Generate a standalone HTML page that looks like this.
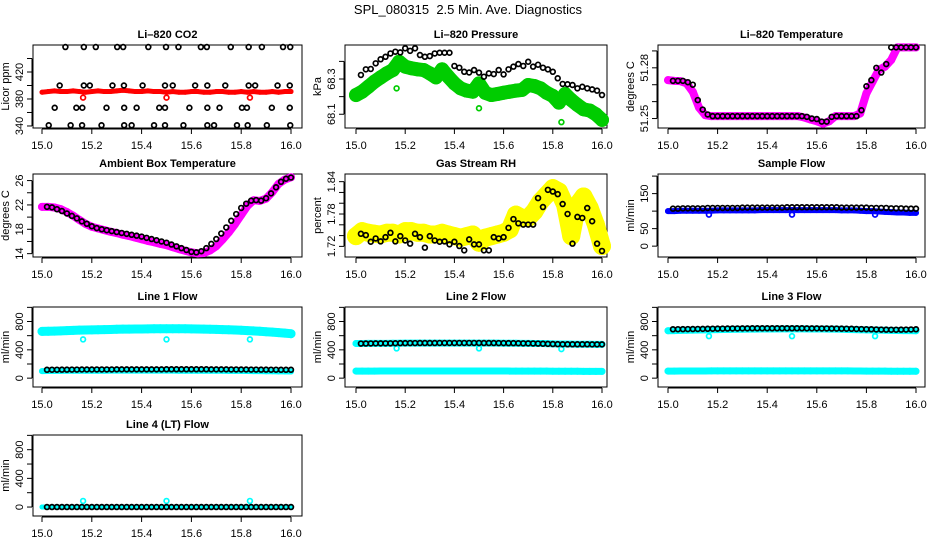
<!DOCTYPE html>
<html><head><meta charset="utf-8"><style>
html,body{margin:0;padding:0;background:#fff;}
svg{display:block;font-family:"Liberation Sans",Arial,sans-serif;}
.tl{font-size:11px;fill:#000;}
.pt{font-size:11px;font-weight:bold;fill:#000;}
</style></head><body>
<svg id="chart" width="936" height="540" viewBox="0 0 936 540" xmlns="http://www.w3.org/2000/svg">
<rect width="936" height="540" fill="#fff"/>
<text x="468" y="14" text-anchor="middle" font-size="13" style="white-space:pre">SPL_080315  2.5 Min. Ave. Diagnostics</text>
</svg>
<script>
// ---- shared time axes ----
const T=[15.000,15.025,15.050,15.075,15.100,15.125,15.150,15.175,15.200,15.225,15.250,15.275,15.300,15.325,15.350,15.375,15.400,15.425,15.450,15.475,15.500,15.525,15.550,15.575,15.600,15.625,15.650,15.675,15.700,15.725,15.750,15.775,15.800,15.825,15.850,15.875,15.900,15.925,15.950,15.975,16.000];
const TB=[15.02,15.04,15.06,15.08,15.10,15.12,15.14,15.16,15.18,15.20,15.22,15.24,15.26,15.28,15.30,15.32,15.34,15.36,15.38,15.40,15.42,15.44,15.46,15.48,15.50,15.52,15.54,15.56,15.58,15.60,15.62,15.64,15.66,15.68,15.70,15.72,15.74,15.76,15.78,15.80,15.82,15.84,15.86,15.88,15.90,15.92,15.94,15.96,15.98,16.00];
const outX=[15.165,15.5,15.835];
const xTicks=[15.0,15.2,15.4,15.6,15.8,16.0];
const xTickLabels=["15.0","15.2","15.4","15.6","15.8","16.0"];

// ---- CO2 ----
const co2Red=[390,391,392,391,391,392,391,390,391,392,391,391,392,393,392,391,391,392,391,391,390,391,390,390,391,391,390,390,391,391,390,390,391,390,391,390,390,391,390,391,391];
const co2BlackX=[15.094,15.168,15.216,15.302,15.326,15.427,15.498,15.548,15.638,15.662,15.758,15.830,15.883,15.968,15.997,
15.071,15.168,15.192,15.283,15.329,15.404,15.494,15.525,15.615,15.664,15.736,15.830,15.856,15.946,15.995,
15.051,15.138,15.162,15.259,15.330,15.380,15.471,15.494,15.592,15.664,15.713,15.803,15.823,15.923,15.995,
15.027,15.115,15.161,15.239,15.330,15.360,15.450,15.494,15.568,15.664,15.691,15.783,15.826,15.903,15.997];
const co2BlackY=[457,457,457,457,457,457,457,457,457,457,457,457,457,457,457,
400,400,400,400,400,400,400,400,400,400,400,400,400,400,400,
367,367,367,367,367,367,367,367,367,367,367,367,367,367,367,
341,341,341,341,341,341,341,341,341,341,341,341,341,341,341];
const co2Out=[382,382,382];

// ---- Pressure ----
const presGreen=[68.209,68.228,68.256,68.285,68.309,68.332,68.351,68.398,68.370,68.361,68.355,68.351,68.332,68.309,68.355,68.313,68.275,68.247,68.234,68.228,68.275,68.222,68.209,68.215,68.222,68.228,68.234,68.238,68.266,68.260,68.247,68.222,68.204,68.166,68.215,68.181,68.153,68.128,68.121,68.100,68.068];
const presBlack=[68.323,68.355,68.357,68.389,68.412,68.426,68.445,68.455,68.451,68.474,68.460,68.474,68.436,68.426,68.430,68.445,68.449,68.449,68.449,68.374,68.364,68.341,68.337,68.351,68.336,68.313,68.332,68.328,68.351,68.326,68.355,68.370,68.385,68.374,68.398,68.370,68.381,68.364,68.355,68.341,68.304,68.272,68.270,68.266,68.247,68.256,68.247,68.241,68.234,68.209];
const presOut=[68.247,68.134,68.055];

// ---- Li-820 temperature ----
const tempMag=[51.2727,51.2723,51.2721,51.2708,51.2658,51.2565,51.2520,51.2514,51.2514,51.2514,51.2514,51.2514,51.2514,51.2514,51.2514,51.2514,51.2514,51.2514,51.2514,51.2514,51.2514,51.2514,51.2506,51.2494,51.2484,51.2470,51.2484,51.2514,51.2514,51.2514,51.2514,51.2530,51.2649,51.2718,51.2788,51.2807,51.2846,51.2921,51.2921,51.2921,51.2921];
const tempBlack=[51.2723,51.2723,51.2723,51.2715,51.2700,51.2609,51.2553,51.2524,51.2514,51.2514,51.2514,51.2514,51.2514,51.2514,51.2514,51.2514,51.2514,51.2514,51.2514,51.2514,51.2514,51.2514,51.2514,51.2514,51.2514,51.2514,51.2514,51.2510,51.2500,51.2497,51.2482,51.2482,51.2510,51.2514,51.2514,51.2514,51.2514,51.2514,51.2549,51.2691,51.2727,51.2800,51.2772,51.2822,51.2921,51.2921,51.2921,51.2921,51.2921,51.2921];

// ---- Ambient box temperature ----
const ambMag=[21.69,21.69,21.58,21.31,20.83,20.24,19.54,18.89,18.41,18.14,17.87,17.60,17.38,17.11,16.90,16.63,16.36,16.09,15.88,15.61,15.39,15.07,14.75,14.48,14.21,14.05,14.10,14.53,15.23,16.31,17.49,18.84,20.34,21.85,22.77,22.66,23.03,24.11,25.46,26.16,26.54];
const ambBlack=[21.69,21.6,21.3,21.0,20.6,20.2,19.8,19.3,18.9,18.5,18.2,18.0,17.85,17.7,17.55,17.4,17.25,17.1,16.95,16.8,16.6,16.4,16.2,16.0,15.8,15.5,15.2,14.9,14.6,14.3,14.2,14.4,14.9,15.6,16.4,17.3,18.3,19.4,20.5,21.5,22.2,22.7,22.8,22.7,23.1,23.9,24.9,25.8,26.3,26.5];

// ---- Gas stream RH ----
const rhYellow=[1.7390,1.7482,1.7452,1.7433,1.7420,1.7452,1.7452,1.7420,1.7482,1.7482,1.7452,1.7452,1.7420,1.7420,1.7452,1.7420,1.7390,1.7360,1.7390,1.7420,1.7268,1.7360,1.7390,1.7420,1.7452,1.7513,1.7788,1.7727,1.7727,1.7849,1.8033,1.8156,1.8279,1.8217,1.7972,1.7390,1.7972,1.8125,1.7911,1.7604,1.7206];
const rhBlack=[1.7433,1.7408,1.7286,1.7347,1.7292,1.7371,1.7452,1.7292,1.7390,1.7310,1.7250,1.7433,1.7371,1.7176,1.7390,1.7310,1.7286,1.7292,1.7237,1.7286,1.7206,1.7127,1.7329,1.7237,1.7237,1.7127,1.7127,1.7371,1.7347,1.7371,1.7544,1.7706,1.7627,1.7604,1.7604,1.7604,1.8095,1.7929,1.8248,1.8217,1.8168,1.7985,1.7801,1.7250,1.7746,1.7727,1.7911,1.7666,1.7250,1.7115];

// ---- Sample flow ----
const sfBlue=[100,100,101,101,101,101,101,101,102,102,102,102,102,102,102,103,103,103,103,103,103,103,103,103,103,103,103,103,102,102,102,101,100,100,99,98,97,96,96,95,95];
const sfBlack=[107,107,108,108,108,108,108,109,109,109,109,109,109,109,110,110,110,110,110,110,110,110,110,111,111,111,111,111,111,111,111,111,111,111,110,110,110,110,110,110,109,109,109,109,108,108,108,107,107,107];
const sfOut=[90,90,90];

// ---- Line flows ----
const l1CyanHi=[660,662,665,668,672,675,678,680,682,684,686,688,690,692,693,694,695,696,697,698,698,698,698,697,696,695,693,691,689,686,683,680,676,672,667,662,656,650,643,636,628];
const l1CyanLo=[100,101,102,103,104,104,105,105,105,105,105,106,106,106,106,106,106,106,106,106,106,106,105,105,105,105,105,104,104,104,103,103,102,101,100,99,98,97,96,95,94];
const l1Black=[118,119,119,120,120,121,121,122,122,122,123,123,123,123,124,124,124,124,124,124,124,124,124,124,125,125,125,125,125,125,125,125,125,124,124,124,124,123,123,122,122,121,121,120,120,119,119,118,118,118];
const l1Out=[547,547,547];
const l2CyanHi=[490,490,491,491,492,492,493,493,494,494,494,495,495,495,495,495,495,495,495,495,495,494,494,494,493,493,493,492,491,490,489,487,485,483,482,480,479,478,478,477,477];
const l2CyanLo=[100,100,100,100,101,101,101,101,101,101,101,101,101,101,101,101,101,101,101,101,101,101,101,101,101,100,100,100,100,100,99,99,98,98,97,97,97,96,96,96,96];
const l2Black=[488,489,490,491,491,492,492,493,494,494,495,495,496,496,496,496,497,497,497,497,497,497,497,497,497,496,496,496,495,495,494,494,493,492,491,490,488,486,484,482,480,479,478,478,478,478,478,477,477,477];
const l2Out=[420,420,410];
const l3CyanHi=[670,672,674,676,678,680,682,684,686,688,689,690,691,692,693,694,695,695,696,696,696,696,696,695,695,694,693,692,690,688,686,684,682,680,678,676,674,673,672,671,670];
const l3CyanLo=[100,100,101,101,101,101,101,102,102,102,102,102,102,102,102,102,103,103,103,103,103,103,103,103,103,102,102,102,102,102,101,101,100,100,99,99,98,98,98,97,97];
const l3Black=[690,691,692,693,694,695,696,697,698,699,700,701,702,702,703,703,704,704,704,704,704,704,704,704,704,704,704,703,703,703,702,702,701,700,699,698,697,695,693,691,690,688,686,685,684,684,685,686,688,690];
const l3Out=[593,593,593];
const l4Cyan=[0,0,0,0,0,0,0,0,0,0,0,0,0,0,0,0,0,0,0,0,0,0,0,0,0,0,0,0,0,0,0,0,0,0,0,0,0,0,0,0,0];
const l4Black=[0,0,0,0,0,0,0,0,0,0,0,0,0,0,0,0,0,0,0,0,0,0,0,0,0,0,0,0,0,0,0,0,0,0,0,0,0,0,0,0,0,0,0,0,0,0,0,0,0,0];
const l4Out=[85,85,85];

const NS="http://www.w3.org/2000/svg";
const svg=document.getElementById('chart');
function mk(tag,attrs,parent){const e=document.createElementNS(NS,tag);for(const k in attrs)e.setAttribute(k,attrs[k]);(parent||svg).appendChild(e);return e;}

const cols=[{l:33,r:302,x15:42,x16:291,yl:9},{l:345,r:607,x15:356,x16:602,yl:321},{l:658,r:925,x15:668,x16:916,yl:634}];
const rows=[{t:45,b:128},{t:174,b:257},{t:307,b:387},{t:435,b:516}];

function panel(ci,ri,title,ylab,ylim,ticks,labels,name){
  const c=cols[ci],r=rows[ri];
  const g=mk('g',{});
  
  
  const sx=v=>c.x15+(v-15)*(c.x16-c.x15);
  const sy=v=>r.b-(v-ylim[0])/(ylim[1]-ylim[0])*(r.b-r.t);
  const tt=mk('text',{x:(c.l+c.r)/2,y:r.t-7,'text-anchor':'middle',class:'pt'},g);tt.textContent=title;
  
  
  const box=mk('rect',{x:c.l,y:r.t,width:c.r-c.l,height:r.b-r.t,fill:'none',stroke:'#000','stroke-width':1},g);
  
  
  const xa=mk('g',{},g);
  
  
  mk('line',{x1:sx(xTicks[0]),x2:sx(xTicks[xTicks.length-1]),y1:r.b+1,y2:r.b+1,stroke:'#000'},xa);
  xTicks.forEach((v,i)=>{const X=sx(v);mk('line',{x1:X,x2:X,y1:r.b+1,y2:r.b+6,stroke:'#000'},xa);
    const t=mk('text',{x:X,y:r.b+21,'text-anchor':'middle',class:'tl'},xa);t.textContent=xTickLabels[i];});
  const ya=mk('g',{},g);
  
  
  mk('line',{x1:c.l-1,x2:c.l-1,y1:sy(ticks[0]),y2:sy(ticks[ticks.length-1]),stroke:'#000'},ya);
  ticks.forEach(v=>{const Y=sy(v);mk('line',{x1:c.l-6,x2:c.l-1,y1:Y,y2:Y,stroke:'#000'},ya);});
  labels.forEach(v=>{const Y=sy(v);const t=mk('text',{x:c.l-10,y:Y,'text-anchor':'middle',class:'tl',transform:`rotate(-90 ${c.l-10} ${Y})`},ya);t.textContent=String(v);});
  const yt=mk('text',{x:c.yl,y:(r.t+r.b)/2,'text-anchor':'middle',class:'tl',transform:`rotate(-90 ${c.yl} ${(r.t+r.b)/2})`},g);yt.textContent=ylab;
  
  
  return {g,sx,sy};
}
function band(p,xs,ys,color,w,name){
  const s=mk('g',{},p.g);
  
  
  mk('polyline',{points:xs.map((x,i)=>p.sx(x)+','+p.sy(ys[i])).join(' '),fill:'none',stroke:color,'stroke-width':w,'stroke-linejoin':'round','stroke-linecap':'round'},s);
  xs.forEach((x,i)=>mk('circle',{cx:p.sx(x),cy:p.sy(ys[i]),r:w/2,fill:color},s));
}
function pts(p,xs,ys,color,name,rad){
  const s=mk('g',{},p.g);
  
  
  xs.forEach((x,i)=>mk('circle',{cx:p.sx(x),cy:p.sy(ys[i]),r:rad||2.4,fill:'none',stroke:color,'stroke-width':1.7},s));
}

let p;
p=panel(0,0,'Li\u2013820 CO2','Licor ppm',[337,460],[340,360,380,400,420,440],[340,380,420],'co2');
band(p,T,co2Red,'#ff0000',5,'co2-red-series');
pts(p,outX,co2Out,'#ff0000','co2-red-outliers');
pts(p,co2BlackX,co2BlackY,'#000','co2-black-series');

p=panel(1,0,'Li\u2013820 Pressure','kPa',[68.022,68.493],[68.1,68.2,68.3,68.4],[68.1,68.3],'pressure');
band(p,T,presGreen,'#00cc00',14,'pressure-green-series');
pts(p,outX,presOut,'#00cc00','pressure-green-outliers');
pts(p,TB,presBlack,'#000','pressure-black-series');

p=panel(2,0,'Li\u2013820 Temperature','degrees C',[51.2444,51.2935],[51.25,51.26,51.27,51.28,51.29],[51.25,51.28],'li820-temp');
band(p,T,tempMag,'#ff00ff',8,'li820-temp-magenta-series');
pts(p,TB,tempBlack,'#000','li820-temp-black-series');

p=panel(0,1,'Ambient Box Temperature','degrees C',[13.45,27.08],[14,16,18,20,22,24,26],[14,18,22,26],'ambient-temp');
band(p,T,ambMag,'#ff00ff',8,'ambient-temp-magenta-series');
pts(p,TB,ambBlack,'#000','ambient-temp-black-series');

p=panel(1,1,'Gas Stream RH','percent',[1.7003,1.8542],[1.72,1.74,1.76,1.78,1.80,1.82,1.84],[1.72,1.78,1.84],'rh');
band(p,T,rhYellow,'#ffff00',18,'rh-yellow-series');
pts(p,TB,rhBlack,'#000','rh-black-series');

p=panel(2,1,'Sample Flow','ml/min',[-31,206],[0,50,100,150,200],[0,50,150],'sample-flow');
band(p,T,sfBlue,'#0000ff',6,'sample-flow-blue-series');
pts(p,outX,sfOut,'#0000ff','sample-flow-blue-outliers');
pts(p,TB,sfBlack,'#000','sample-flow-black-series');

const fl=[-125,1005],ft=[0,200,400,600,800,1000],fll=[0,400,800];
p=panel(0,2,'Line 1 Flow','ml/min',fl,ft,fll,'line1-flow');
band(p,T,l1CyanHi,'#00ffff',9,'line1-cyan-upper-series');
band(p,T,l1CyanLo,'#00ffff',6,'line1-cyan-lower-series');
pts(p,outX,l1Out,'#00ffff','line1-cyan-outliers');
pts(p,TB,l1Black,'#000','line1-black-series');

p=panel(1,2,'Line 2 Flow','ml/min',fl,ft,fll,'line2-flow');
band(p,T,l2CyanHi,'#00ffff',7,'line2-cyan-upper-series');
band(p,T,l2CyanLo,'#00ffff',7,'line2-cyan-lower-series');
pts(p,outX,l2Out,'#00ffff','line2-cyan-outliers');
pts(p,TB,l2Black,'#000','line2-black-series');

p=panel(2,2,'Line 3 Flow','ml/min',fl,ft,fll,'line3-flow');
band(p,T,l3CyanHi,'#00ffff',7,'line3-cyan-upper-series');
band(p,T,l3CyanLo,'#00ffff',7,'line3-cyan-lower-series');
pts(p,outX,l3Out,'#00ffff','line3-cyan-outliers');
pts(p,TB,l3Black,'#000','line3-black-series');

p=panel(0,3,'Line 4 (LT) Flow','ml/min',fl,ft,fll,'line4-flow');
band(p,T,l4Cyan,'#00ffff',5,'line4-cyan-series');
pts(p,outX,l4Out,'#00ffff','line4-cyan-outliers');
pts(p,TB,l4Black,'#000','line4-black-series');
</script>
</body></html>
